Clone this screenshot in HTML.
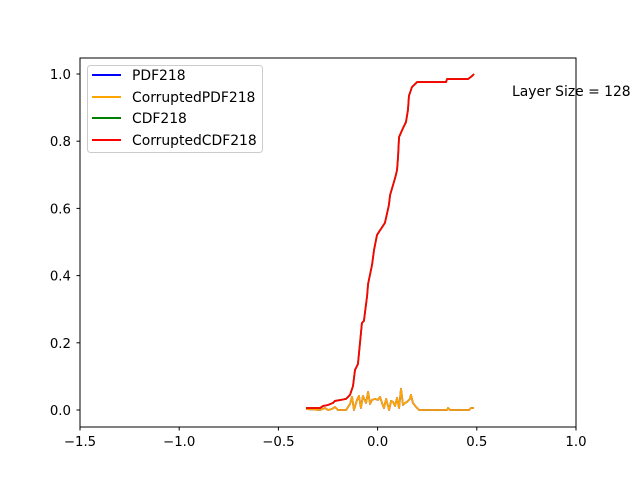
<!DOCTYPE html>
<html><head><meta charset="utf-8"><style>
body{margin:0;background:#fff;}
svg{font-family:"DejaVu Sans","Liberation Sans",sans-serif;}
</style></head><body>
<svg id="chart" width="640" height="480" xmlns="http://www.w3.org/2000/svg">
<rect width="640" height="480" fill="#fff"/>
<g id="axes"></g>
<g id="series"></g>
<rect x="80" y="58" width="496" height="369" fill="none" stroke="#000" stroke-width="1"/>
<g>
<rect x="87.5" y="65.5" width="175" height="87" rx="3" fill="#fff" fill-opacity="0.8" stroke="#ccc"/>
<line x1="92" y1="75" x2="121" y2="75" stroke="blue" stroke-width="2"/>
<text x="132" y="80" font-size="13.9">PDF218</text>
<line x1="92" y1="97" x2="121" y2="97" stroke="orange" stroke-width="2"/>
<text x="132" y="102" font-size="13.9">CorruptedPDF218</text>
<line x1="92" y1="118" x2="121" y2="118" stroke="green" stroke-width="2"/>
<text x="132" y="123" font-size="13.9">CDF218</text>
<line x1="92" y1="140" x2="121" y2="140" stroke="red" stroke-width="2"/>
<text x="132" y="145" font-size="13.9">CorruptedCDF218</text>
</g>
<text x="512" y="96" font-size="13.9">Layer Size = 128</text>
</svg>
<script>
const xTicks=[-1.5,-1.0,-0.5,0.0,0.5,1.0];
const yTicks=[0.0,0.2,0.4,0.6,0.8,1.0];
const cdfX=[-0.361,-0.290,-0.275,-0.250,-0.225,-0.215,-0.184,-0.159,-0.139,-0.124,-0.114,-0.099,-0.079,-0.069,-0.053,-0.048,-0.028,-0.018,-0.003,0.007,0.037,0.057,0.063,0.088,0.098,0.103,0.108,0.128,0.143,0.153,0.158,0.168,0.173,0.199,0.345,0.350,0.456,0.476,0.486];
const cdfY=[0.006,0.006,0.012,0.015,0.021,0.027,0.030,0.033,0.045,0.071,0.119,0.137,0.259,0.265,0.339,0.375,0.432,0.476,0.521,0.530,0.557,0.610,0.640,0.690,0.714,0.753,0.812,0.839,0.857,0.893,0.935,0.952,0.961,0.976,0.976,0.985,0.985,0.994,1.0];
const pdfX=[-0.361,-0.290,-0.265,-0.250,-0.230,-0.215,-0.200,-0.159,-0.139,-0.129,-0.119,-0.104,-0.094,-0.084,-0.074,-0.058,-0.048,-0.038,-0.028,-0.013,0.002,0.012,0.022,0.032,0.043,0.058,0.068,0.078,0.088,0.098,0.108,0.118,0.128,0.138,0.148,0.163,0.168,0.178,0.194,0.209,0.350,0.355,0.365,0.461,0.471,0.486];
const pdfY=[0.003,0.0,0.006,0.0,0.003,0.009,0.0,0.0,0.018,0.039,0.0,0.030,0.042,0.006,0.042,0.021,0.054,0.018,0.030,0.033,0.030,0.039,0.021,0.006,0.033,0.0,0.027,0.024,0.012,0.036,0.006,0.063,0.015,0.021,0.024,0.033,0.045,0.021,0.009,0.0,0.0,0.006,0.0,0.0,0.006,0.006];
const X=v=>377.6+v*198.4, Y=v=>410-v*336;
const NS="http://www.w3.org/2000/svg";
const axes=document.getElementById('axes'), ser=document.getElementById('series');
function mk(t,a,p){const e=document.createElementNS(NS,t);for(const k in a)e.setAttribute(k,a[k]);p.appendChild(e);return e;}
xTicks.forEach(v=>{
 const l=mk('line',{x1:X(v),x2:X(v),y1:427,y2:430.5,stroke:'#000'},axes);
 
 
 const t=mk('text',{x:X(v),y:446,'font-size':13.3,'text-anchor':'middle'},axes);
 t.textContent=(v<0?'\u2212':'')+Math.abs(v).toFixed(1);
 
 
});
yTicks.forEach(v=>{
 const l=mk('line',{x1:76.5,x2:80,y1:Y(v),y2:Y(v),stroke:'#000'},axes);
 
 
 const t=mk('text',{x:71,y:Y(v)+5,'font-size':13.3,'text-anchor':'end'},axes);
 t.textContent=v.toFixed(1);
 
 
});
function line(xs,ys,c,name){
 const p=mk('polyline',{points:xs.map((x,i)=>X(x)+','+Y(ys[i])).join(' '),fill:'none',stroke:c,'stroke-width':1.8,'stroke-linejoin':'round'},ser);
 
 
}
line(pdfX,pdfY,'blue','pdf218-line');
line(pdfX,pdfY,'orange','corrupted-pdf218-line');
line(cdfX,cdfY,'green','cdf218-line');
line(cdfX,cdfY,'red','corrupted-cdf218-line');
</script>
</body></html>
